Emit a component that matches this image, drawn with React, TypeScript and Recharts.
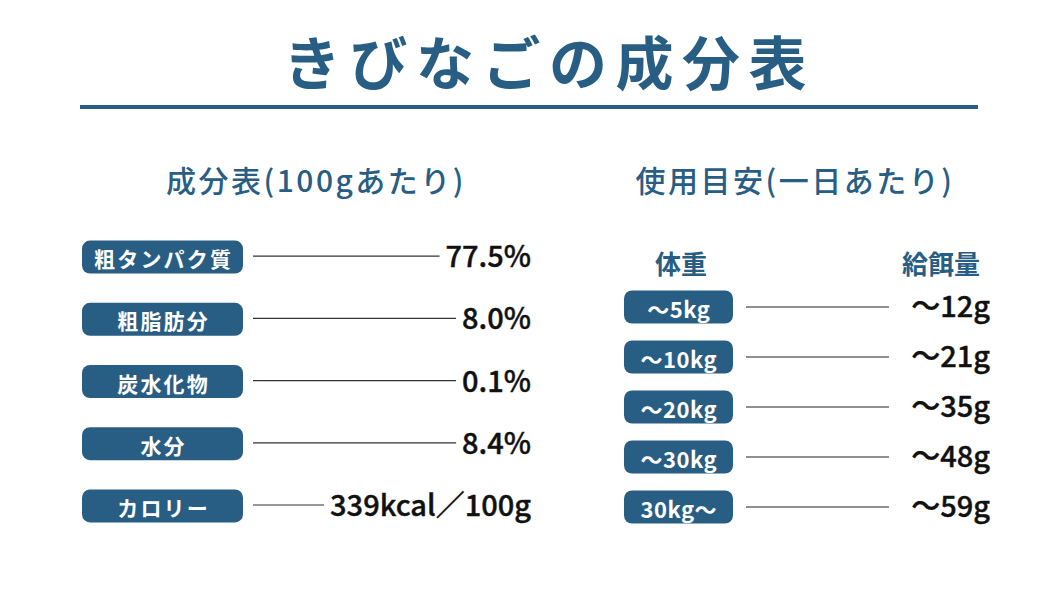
import { BarChart, Bar, XAxis, YAxis } from "recharts";

const BLUE = "#285e84";
const FONT = "'Noto Sans CJK JP', 'Noto Sans', sans-serif";
const VALUE_FAMILY = "'Noto Sans CJK JP Medium', 'Noto Sans CJK JP', 'Noto Sans', sans-serif";

// 成分表(100gあたり)
const nutrientNames = ["粗タンパク質", "粗脂肪分", "炭水化物", "水分", "カロリー"];
const nutrientValues = ["77.5%", "8.0%", "0.1%", "8.4%", "339kcal／100g"];

// 使用目安(一日あたり)
const weightClasses = ["～5kg", "～10kg", "～20kg", "～30kg", "30kg～"];
const feedAmounts = ["～12g", "～21g", "～35g", "～48g", "～59g"];

// each row spans the whole plot width, the shape draws the leader line + value
const nutrientRows = nutrientNames.map((name, i) => ({ name, value: nutrientValues[i], track: 1 }));
const feedRows = weightClasses.map((name, i) => ({ name, value: feedAmounts[i], track: 1 }));

let measureCtx: CanvasRenderingContext2D | null = null;
function textWidth(s: string, font: string) {
  if (!measureCtx) measureCtx = document.createElement("canvas").getContext("2d");
  if (!measureCtx) return s.length * 16;
  measureCtx.font = font;
  return measureCtx.measureText(s).width;
}

const Pill = (props: any) => {
  const { x, y, payload, pillWidth, gap, fontSize, spacing } = props;
  const left = x - gap - pillWidth;
  return (
    <g>
      <rect x={left} y={y - 16.5} width={pillWidth} height={33} rx={8} fill={BLUE} />
      <text
        x={left + pillWidth / 2 + spacing / 2}
        y={y + 1}
        textAnchor="middle"
        dominantBaseline="central"
        fill="#fff"
        fontSize={fontSize}
        fontWeight={700}
        fontFamily={FONT}
        style={{ letterSpacing: spacing }}
      >
        {payload.value}
      </text>
    </g>
  );
};

const VALUE_SIZE = 29;
const VALUE_FONT = `500 ${VALUE_SIZE}px ${VALUE_FAMILY}`;

const ValueText = ({ x, y, value }: { x: number; y: number; value: string }) => (
  <text x={x} y={y - 3} textAnchor="end" dominantBaseline="central" fontSize={VALUE_SIZE} fontWeight={500} fill="#111" fontFamily={VALUE_FAMILY} stroke="#111" strokeWidth={0.4}>
    {value}
  </text>
);

const NutrientRow = (props: any) => {
  const { x, y, width, height, payload } = props;
  const cy = y + height / 2;
  const right = x + width - 1;
  const w = textWidth(payload.value, VALUE_FONT);
  return (
    <g>
      <line x1={x} x2={right - w - 6} y1={cy - 1} y2={cy - 1} stroke="#333" strokeWidth={1.2} />
      <ValueText x={right} y={cy} value={payload.value} />
    </g>
  );
};

const FeedRow = (props: any) => {
  const { x, y, width, height, payload } = props;
  const cy = y + height / 2;
  const right = x + width - 1;
  return (
    <g>
      <line x1={x} x2={right - 101} y1={cy} y2={cy} stroke="#222" strokeWidth={1.2} />
      <ValueText x={right} y={cy} value={payload.value} />
    </g>
  );
};

export default function App() {
  return (
    <div style={{ position: "absolute", left: 0, top: 0, width: 1060, height: 596, background: "#fff", overflow: "hidden", fontFamily: FONT }}>
      <svg width={1060} height={596} style={{ position: "absolute", left: 0, top: 0 }}>
        <text x={549} y={60} textAnchor="middle" dominantBaseline="central" fontSize={58} fontWeight={700} fill={BLUE} fontFamily={FONT} style={{ letterSpacing: 8.5 }}>
          きびなごの成分表
        </text>
        <rect x={80} y={105} width={898} height={4} fill={BLUE} />
        <text x={316} y={179} textAnchor="middle" dominantBaseline="central" fontSize={30} fontWeight={500} fill={BLUE} fontFamily={FONT} style={{ letterSpacing: 2.5 }}>
          成分表(100gあたり)
        </text>
        <text x={795} y={179} textAnchor="middle" dominantBaseline="central" fontSize={30} fontWeight={500} fill={BLUE} fontFamily={FONT} style={{ letterSpacing: 2.5 }}>
          使用目安(一日あたり)
        </text>
        <text x={681} y={262} textAnchor="middle" dominantBaseline="central" fontSize={26} fontWeight={700} fill={BLUE} fontFamily={FONT}>
          体重
        </text>
        <text x={941} y={262} textAnchor="middle" dominantBaseline="central" fontSize={26} fontWeight={700} fill={BLUE} fontFamily={FONT}>
          給餌量
        </text>
      </svg>

      <div style={{ position: "absolute", left: 82, top: 226 }}>
        <BarChart width={450} height={311} data={nutrientRows} layout="vertical" margin={{ top: 0, right: 0, bottom: 0, left: 0 }}>
          <XAxis type="number" domain={[0, 1]} hide />
          <YAxis
            type="category"
            dataKey="name"
            width={171}
            interval={0}
            tickLine={false}
            axisLine={false}
            tickSize={0}
            tickMargin={0}
            tick={<Pill pillWidth={161} gap={10} fontSize={21} spacing={2.2} />}
          />
          <Bar dataKey="track" isAnimationActive={false} shape={<NutrientRow />} />
        </BarChart>
      </div>

      <div style={{ position: "absolute", left: 624, top: 282 }}>
        <BarChart width={367} height={250} data={feedRows} layout="vertical" margin={{ top: 0, right: 0, bottom: 0, left: 0 }}>
          <XAxis type="number" domain={[0, 1]} hide />
          <YAxis
            type="category"
            dataKey="name"
            width={122}
            interval={0}
            tickLine={false}
            axisLine={false}
            tickSize={0}
            tickMargin={0}
            tick={<Pill pillWidth={109} gap={13} fontSize={22} spacing={0.5} />}
          />
          <Bar dataKey="track" isAnimationActive={false} shape={<FeedRow />} />
        </BarChart>
      </div>
    </div>
  );
}
